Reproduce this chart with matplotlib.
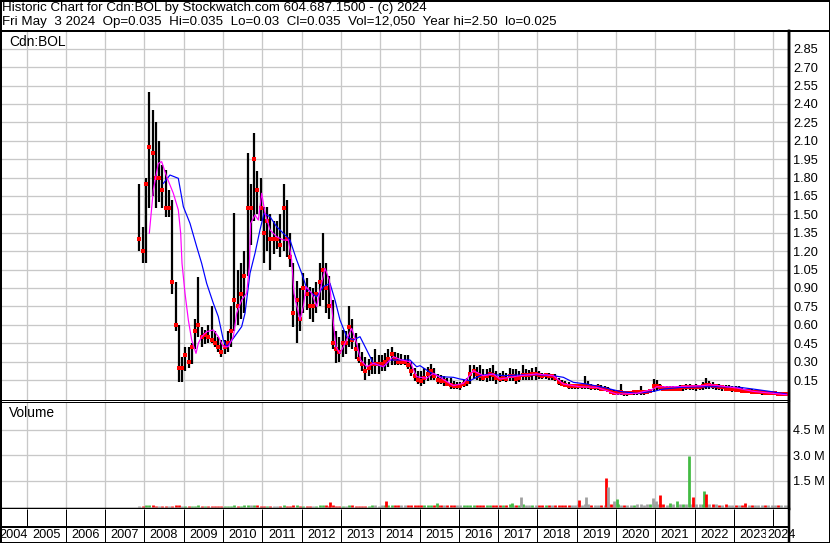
import matplotlib
matplotlib.use("Agg")
import matplotlib.pyplot as plt
import numpy as np
import pandas as pd
from matplotlib.lines import Line2D

# ---------------- data ----------------
months = pd.period_range("2007-11", "2024-05", freq="M")

price_hi = [
    1.75, 1.40,
    1.80, 2.50, 2.35, 2.25, 2.10, 1.90, 1.86, 1.70, 1.62, 0.95, 0.60, 0.34,
    0.42, 0.42, 0.45, 0.65, 0.99, 0.58, 0.56, 0.60, 0.75, 0.55, 0.50, 0.48,
    0.48, 0.55, 0.75, 1.51, 1.05, 1.10, 1.20, 2.00, 1.75, 2.16, 1.85, 1.80,
    1.56, 1.56, 1.50, 1.45, 1.45, 1.50, 1.75, 1.62, 1.35, 1.10, 0.96, 0.90,
    1.02, 0.98, 0.91, 0.90, 0.95, 1.10, 1.35, 1.10, 1.00, 0.80, 0.55, 0.50,
    0.56, 0.55, 0.75, 0.65, 0.53, 0.45, 0.38, 0.34, 0.32, 0.34, 0.40, 0.35,
    0.35, 0.37, 0.40, 0.42, 0.38, 0.37, 0.36, 0.35, 0.35, 0.30, 0.25, 0.22,
    0.22, 0.25, 0.26, 0.28, 0.25, 0.20, 0.19, 0.18, 0.17, 0.17, 0.14, 0.13,
    0.13, 0.15, 0.17, 0.27, 0.27, 0.26, 0.27, 0.24, 0.24, 0.25, 0.27, 0.22,
    0.21, 0.22, 0.21, 0.25, 0.24, 0.24, 0.22, 0.27, 0.24, 0.23, 0.25, 0.26,
    0.22, 0.21, 0.21, 0.21, 0.20, 0.20, 0.17, 0.15, 0.14, 0.13, 0.12, 0.12,
    0.12, 0.12, 0.18, 0.14, 0.12, 0.11, 0.12, 0.11, 0.10, 0.09, 0.08, 0.07,
    0.07, 0.12, 0.06, 0.06, 0.06, 0.06, 0.07, 0.10, 0.07, 0.07, 0.08, 0.16,
    0.15, 0.12, 0.10, 0.10, 0.10, 0.10, 0.10, 0.11, 0.11, 0.12, 0.12, 0.11,
    0.12, 0.11, 0.13, 0.17, 0.14, 0.13, 0.12, 0.12, 0.11, 0.11, 0.11, 0.10,
    0.10, 0.10, 0.09, 0.08, 0.08, 0.08, 0.07, 0.07, 0.07, 0.06, 0.06, 0.06,
    0.05, 0.05, 0.05, 0.045, 0.035,
]
price_lo = [
    1.20, 1.10,
    1.10, 1.55, 1.65, 1.55, 1.60, 1.55, 1.48, 1.48, 0.85, 0.55, 0.13, 0.13,
    0.22, 0.25, 0.28, 0.40, 0.50, 0.42, 0.44, 0.45, 0.45, 0.42, 0.38, 0.34,
    0.36, 0.38, 0.42, 0.55, 0.60, 0.65, 0.70, 1.00, 1.25, 1.45, 1.50, 1.45,
    1.10, 1.20, 1.05, 1.18, 1.22, 1.15, 1.20, 1.15, 1.07, 0.58, 0.45, 0.55,
    0.70, 0.72, 0.65, 0.62, 0.70, 0.75, 0.80, 0.70, 0.65, 0.40, 0.29, 0.30,
    0.34, 0.36, 0.42, 0.40, 0.32, 0.29, 0.22, 0.15, 0.18, 0.20, 0.20, 0.20,
    0.22, 0.22, 0.26, 0.27, 0.27, 0.27, 0.27, 0.27, 0.24, 0.18, 0.14, 0.12,
    0.10, 0.12, 0.14, 0.15, 0.15, 0.12, 0.12, 0.10, 0.10, 0.08, 0.08, 0.08,
    0.07, 0.09, 0.10, 0.12, 0.16, 0.15, 0.14, 0.14, 0.13, 0.14, 0.14, 0.12,
    0.13, 0.14, 0.13, 0.14, 0.14, 0.12, 0.13, 0.15, 0.15, 0.15, 0.15, 0.15,
    0.16, 0.16, 0.16, 0.15, 0.15, 0.14, 0.11, 0.10, 0.09, 0.08, 0.08, 0.08,
    0.08, 0.08, 0.08, 0.08, 0.07, 0.07, 0.07, 0.06, 0.06, 0.05, 0.04, 0.03,
    0.03, 0.03, 0.02, 0.02, 0.03, 0.03, 0.03, 0.03, 0.03, 0.04, 0.04, 0.05,
    0.07, 0.07, 0.06, 0.06, 0.06, 0.06, 0.06, 0.06, 0.06, 0.07, 0.07, 0.07,
    0.06, 0.07, 0.07, 0.08, 0.08, 0.08, 0.07, 0.07, 0.06, 0.06, 0.06, 0.05,
    0.05, 0.05, 0.05, 0.04, 0.04, 0.04, 0.04, 0.04, 0.03, 0.03, 0.03, 0.03,
    0.025, 0.025, 0.025, 0.025, 0.03,
]
price_close = [
    1.30, 1.20,
    1.75, 2.05, 2.00, 1.80, 1.80, 1.70, 1.55, 1.55, 0.95, 0.60, 0.25, 0.25,
    0.35, 0.30, 0.42, 0.55, 0.60, 0.50, 0.52, 0.50, 0.48, 0.45, 0.42, 0.38,
    0.42, 0.45, 0.55, 0.80, 0.75, 0.85, 1.00, 1.55, 1.55, 1.95, 1.70, 1.55,
    1.35, 1.45, 1.30, 1.30, 1.30, 1.25, 1.55, 1.30, 1.15, 0.70, 0.80, 0.65,
    0.90, 0.85, 0.75, 0.75, 0.85, 0.95, 1.05, 0.90, 0.75, 0.45, 0.40, 0.38,
    0.45, 0.45, 0.58, 0.48, 0.40, 0.32, 0.28, 0.22, 0.25, 0.28, 0.28, 0.28,
    0.28, 0.30, 0.32, 0.36, 0.32, 0.30, 0.30, 0.30, 0.27, 0.22, 0.18, 0.15,
    0.14, 0.17, 0.20, 0.22, 0.18, 0.15, 0.14, 0.14, 0.12, 0.11, 0.10, 0.10,
    0.10, 0.12, 0.13, 0.20, 0.22, 0.20, 0.18, 0.17, 0.18, 0.20, 0.19, 0.17,
    0.16, 0.17, 0.16, 0.18, 0.18, 0.16, 0.17, 0.19, 0.19, 0.19, 0.20, 0.20,
    0.19, 0.18, 0.19, 0.18, 0.18, 0.17, 0.13, 0.12, 0.11, 0.10, 0.10, 0.10,
    0.10, 0.10, 0.10, 0.10, 0.09, 0.09, 0.09, 0.08, 0.08, 0.07, 0.05, 0.04,
    0.05, 0.05, 0.04, 0.04, 0.04, 0.05, 0.05, 0.05, 0.05, 0.05, 0.06, 0.10,
    0.10, 0.09, 0.08, 0.08, 0.08, 0.08, 0.08, 0.08, 0.09, 0.09, 0.09, 0.09,
    0.09, 0.09, 0.10, 0.11, 0.11, 0.10, 0.10, 0.09, 0.09, 0.08, 0.08, 0.08,
    0.07, 0.07, 0.06, 0.06, 0.06, 0.05, 0.05, 0.05, 0.05, 0.04, 0.04, 0.04,
    0.04, 0.035, 0.035, 0.035, 0.035,
]
# base monthly volume (millions of shares)
volume_m = [
    0.05, 0.06,
    0.07, 0.08, 0.07, 0.06, 0.06, 0.05, 0.06, 0.05, 0.06, 0.07, 0.07, 0.06,
    0.05, 0.05, 0.06, 0.06, 0.07, 0.05, 0.05, 0.05, 0.06, 0.05, 0.05, 0.05,
    0.05, 0.05, 0.06, 0.08, 0.06, 0.06, 0.07, 0.08, 0.07, 0.08, 0.07, 0.06,
    0.06, 0.06, 0.06, 0.05, 0.05, 0.06, 0.07, 0.06, 0.06, 0.07, 0.07, 0.06,
    0.06, 0.06, 0.06, 0.05, 0.06, 0.07, 0.09, 0.07, 0.06, 0.08, 0.06, 0.06,
    0.06, 0.06, 0.08, 0.07, 0.06, 0.06, 0.06, 0.06, 0.06, 0.07, 0.07, 0.06,
    0.08, 0.09, 0.08, 0.08, 0.07, 0.07, 0.07, 0.07, 0.07, 0.08, 0.08, 0.07,
    0.07, 0.07, 0.08, 0.08, 0.09, 0.08, 0.07, 0.07, 0.07, 0.08, 0.08, 0.07,
    0.07, 0.08, 0.08, 0.10, 0.09, 0.09, 0.08, 0.08, 0.08, 0.09, 0.09, 0.08,
    0.08, 0.08, 0.09, 0.12, 0.10, 0.09, 0.10, 0.12, 0.10, 0.09, 0.10, 0.10,
    0.09, 0.09, 0.10, 0.09, 0.09, 0.09, 0.10, 0.09, 0.09, 0.10, 0.10, 0.10,
    0.12, 0.11, 0.12, 0.12, 0.10, 0.10, 0.11, 0.10, 0.10, 0.12, 0.12, 0.12,
    0.12, 0.11, 0.10, 0.10, 0.10, 0.11, 0.12, 0.12, 0.11, 0.12, 0.14, 0.16,
    0.15, 0.12, 0.12, 0.11, 0.11, 0.12, 0.11, 0.12, 0.12, 0.13, 0.14, 0.13,
    0.13, 0.12, 0.13, 0.15, 0.13, 0.12, 0.12, 0.11, 0.11, 0.12, 0.11, 0.11,
    0.11, 0.11, 0.10, 0.12, 0.10, 0.10, 0.10, 0.09, 0.10, 0.10, 0.10, 0.11,
    0.10, 0.10, 0.10, 0.09, 0.08,
]
# individual large-volume weeks: (decimal year, millions, direction)
spike_dates = [2012.73, 2014.16, 2015.45, 2017.35, 2017.59, 2019.05, 2019.23,
               2019.74, 2019.80, 2019.94, 2020.02, 2020.94, 2021.03, 2021.11,
               2021.37, 2021.54, 2021.87, 2021.95, 2022.25, 2022.30, 2023.27]
spike_vol = [0.25, 0.30, 0.22, 0.20, 0.55, 0.40, 0.55,
             1.67, 1.13, 0.35, 0.45, 0.50, 0.30, 0.70,
             0.18, 0.35, 2.98, 0.58, 0.92, 0.73, 0.20]
spike_dir = ["d", "d", "u", "u", "f", "d", "f",
             "d", "f", "f", "u", "f", "f", "d",
             "u", "u", "u", "d", "u", "d", "d"]

# moving averages (decimal year, price)
ma_short_x = [2008.125, 2008.227, 2008.354, 2008.439, 2008.566, 2008.736, 2008.863, 2008.923,
              2008.957, 2009.033, 2009.118, 2009.203, 2009.313, 2009.372, 2009.457, 2009.584,
              2009.754, 2009.881, 2010.008, 2010.136, 2010.263, 2010.348, 2010.475, 2010.602,
              2010.670, 2010.704, 2010.814, 2010.899, 2010.984, 2011.069, 2011.196, 2011.365,
              2011.535, 2011.662, 2011.747, 2011.806, 2011.959, 2012.044, 2012.112, 2012.256,
              2012.383, 2012.510, 2012.595, 2012.706, 2012.782, 2012.875, 2012.977, 2013.104,
              2013.274, 2013.401, 2013.503, 2013.656, 2013.825, 2014.080, 2014.334, 2014.546,
              2014.758, 2014.928, 2015.182, 2015.352, 2015.522, 2015.861, 2016.116, 2016.370,
              2016.625, 2016.879, 2017.049, 2017.303, 2017.558, 2017.982, 2018.406, 2018.660,
              2019.084, 2019.508, 2020.017, 2020.526, 2020.950, 2021.035, 2021.459, 2022.222,
              2022.392, 2023.071, 2023.495, 2024.343]
ma_short_y = [1.346, 1.699, 1.916, 1.930, 1.807, 1.672, 1.536, 1.346,
              1.101, 0.857, 0.639, 0.476, 0.367, 0.449, 0.503, 0.544,
              0.558, 0.503, 0.421, 0.421, 0.503, 0.694, 0.802, 0.857,
              1.074, 1.427, 1.495, 1.454, 1.672, 1.509, 1.373, 1.318,
              1.291, 1.291, 1.128, 0.857, 0.639, 0.748, 0.911, 0.857,
              0.748, 0.938, 1.061, 0.965, 0.694, 0.421, 0.367, 0.449,
              0.571, 0.449, 0.313, 0.258, 0.286, 0.258, 0.340, 0.313,
              0.299, 0.177, 0.164, 0.205, 0.172, 0.104, 0.123, 0.226,
              0.185, 0.199, 0.158, 0.172, 0.185, 0.199, 0.185, 0.117,
              0.095, 0.090, 0.035, 0.041, 0.076, 0.095, 0.095, 0.104,
              0.112, 0.085, 0.057, 0.030]
ma_long_x = [2008.482, 2008.651, 2008.863, 2008.991, 2009.160, 2009.330, 2009.457, 2009.584,
             2009.754, 2009.881, 2010.008, 2010.093, 2010.263, 2010.475, 2010.560, 2010.687,
             2010.814, 2010.941, 2011.043, 2011.196, 2011.365, 2011.535, 2011.705, 2011.874,
             2012.002, 2012.129, 2012.256, 2012.383, 2012.553, 2012.722, 2012.850, 2012.977,
             2013.147, 2013.316, 2013.486, 2013.656, 2013.825, 2014.080, 2014.249, 2014.503,
             2014.758, 2014.928, 2015.013, 2015.267, 2015.522, 2015.861, 2016.031, 2016.285,
             2016.540, 2016.794, 2017.133, 2017.558, 2017.982, 2018.406, 2018.660, 2018.915,
             2019.254, 2019.678, 2020.102, 2020.526, 2020.950, 2021.205, 2021.629, 2022.222,
             2022.646, 2023.155, 2023.495, 2023.919, 2024.343]
ma_long_y = [1.753, 1.821, 1.794, 1.563, 1.427, 1.237, 1.101, 0.938,
             0.775, 0.666, 0.476, 0.421, 0.490, 0.585, 0.694, 1.020,
             1.183, 1.373, 1.509, 1.481, 1.400, 1.346, 1.291, 1.128,
             1.020, 0.898, 0.857, 0.829, 0.911, 0.938, 0.802, 0.639,
             0.503, 0.476, 0.503, 0.395, 0.286, 0.258, 0.313, 0.313,
             0.313, 0.258, 0.267, 0.213, 0.177, 0.172, 0.158, 0.145,
             0.185, 0.199, 0.185, 0.191, 0.194, 0.185, 0.172, 0.131,
             0.117, 0.090, 0.057, 0.041, 0.057, 0.076, 0.090, 0.095,
             0.095, 0.090, 0.076, 0.057, 0.035]

years = list(range(2004, 2025))
price_ticks = [0.15, 0.30, 0.45, 0.60, 0.75, 0.90, 1.05, 1.20, 1.35, 1.50, 1.65,
               1.80, 1.95, 2.10, 2.25, 2.40, 2.55, 2.70, 2.85]
vol_ticks = [1.5, 3.0, 4.5]
vol_tick_labels = ["1.5 M", "3.0 M", "4.5 M"]

header1 = "Historic Chart for Cdn:BOL by Stockwatch.com 604.687.1500 - (c) 2024"
header2 = ("Fri May  3 2024  Op=0.035  Hi=0.035  Lo=0.03  Cl=0.035  "
           "Vol=12,050  Year hi=2.50  lo=0.025")

# ---------------- figure ----------------
plt.rcParams["font.family"] = ["Liberation Sans", "DejaVu Sans"]
W, H = 830, 543
fig = plt.figure(figsize=(W / 100, H / 100), dpi=100)
fig.patch.set_facecolor("white")
PX = 0.72  # one pixel in points

def ax_px(x0, y0, x1, y1):
    return fig.add_axes([x0 / W, 1 - y1 / H, (x1 - x0) / W, (y1 - y0) / H])

x = np.array([m.year + (m.month - 0.5) / 12 for m in months])
XMIN, XMAX = 2004.351, 2024.402
GRID = "#c8c8c8"
TICK_FS = 9.2

# price panel
ax = ax_px(1, 31, 789, 400)
ax.set_xlim(XMIN, XMAX)
ax.set_ylim(-0.013, 2.995)
ax.set_xticks(years[1:])
ax.set_yticks(price_ticks)
ax.set_yticklabels([f"{v:.2f}" for v in price_ticks])
ax.yaxis.tick_right()
ax.tick_params(axis="x", length=0, labelbottom=False)
ax.tick_params(axis="y", length=0, pad=3, labelsize=TICK_FS)
ax.grid(True, color=GRID, lw=PX * 1.3)
ax.set_axisbelow(True)
for s in ["left", "top", "bottom"]:
    ax.spines[s].set_linewidth(PX)
ax.spines["right"].set_linewidth(PX * 2.5)

ax.vlines(x, price_lo, price_hi, color="black", lw=1.6, zorder=2)
ax.plot(x, price_close, "s", color="red", ms=2.4, mew=0, zorder=3)
ax.plot(ma_long_x, ma_long_y, color="#0000ff", lw=PX * 1.2, zorder=4)
ax.plot(ma_short_x, ma_short_y, color="#ff00ff", lw=PX * 1.2, zorder=5)
ax.text(8 / 788, 1 - 11 / 369, "Cdn:BOL", transform=ax.transAxes,
        fontsize=9.9, va="center", ha="left")

# volume panel
av = ax_px(1, 402, 789, 509)
av.set_xlim(XMIN, XMAX)
av.set_ylim(-0.145, 6.13)
av.set_xticks(years[1:])
av.set_yticks(vol_ticks)
av.set_yticklabels(vol_tick_labels)
av.yaxis.tick_right()
av.tick_params(axis="x", length=0, labelbottom=False)
av.tick_params(axis="y", length=0, pad=3, labelsize=TICK_FS)
av.grid(True, color=GRID, lw=PX * 1.3)
av.set_axisbelow(True)
for s in ["left", "top"]:
    av.spines[s].set_linewidth(PX)
av.spines["bottom"].set_linewidth(PX * 2.5)
av.spines["right"].set_linewidth(PX * 2.5)

col = {"u": "#44bb44", "d": "#ff0000", "f": "#a0a0a0"}
chg = np.diff(np.array(price_close), prepend=price_close[0])
base_dir = ["u" if c > 0 else ("d" if c < 0 else "f") for c in chg]
av.vlines(x, 0, volume_m, colors=[col[d] for d in base_dir], lw=2.0, zorder=2)
av.vlines(spike_dates, 0, spike_vol, colors=[col[d] for d in spike_dir], lw=2.0, zorder=3)
av.text(8 / 788, 1 - 11 / 107, "Volume", transform=av.transAxes,
        fontsize=9.9, va="center", ha="left")

# date strip
ad = ax_px(1, 509, 789, 543)
ad.set_xlim(XMIN, XMAX)
ad.set_ylim(0, 34)
ad.set_xticks([])
ad.set_yticks([])
for s in ad.spines.values():
    s.set_visible(False)
ad.vlines(years[1:], 0, 34, color="black", lw=PX)
ad.axhline(16.5, color="black", lw=PX * 2)
for yr in years:
    lo_e = max(yr, XMIN)
    hi_e = min(yr + 1, XMAX)
    ad.text((lo_e + hi_e) / 2, 8, str(yr), ha="center", va="center",
            fontsize=TICK_FS, clip_on=False,
            bbox=dict(boxstyle="square,pad=0.05", fc="white", ec="none"))

# header & outer frame
fig.text(2 / W, 1 - 8 / H, header1, fontsize=9.65, va="center", ha="left")
fig.text(2 / W, 1 - 22 / H, header2, fontsize=9.65, va="center", ha="left")
fig.add_artist(Line2D([0, 1], [1 - 30.5 / H] * 2, color="black", lw=PX * 2))
fig.add_artist(Line2D([789 / W] * 2, [0, 1 - 31 / H], color="black", lw=PX * 2.5))
fig.add_artist(Line2D([0.5 / W, 829.5 / W, 829.5 / W, 0.5 / W, 0.5 / W],
                      [1 - 0.5 / H, 1 - 0.5 / H, 0.5 / H, 0.5 / H, 1 - 0.5 / H],
                      color="black", lw=PX * 2))

fig.savefig("out.png", dpi=100, facecolor="white")
